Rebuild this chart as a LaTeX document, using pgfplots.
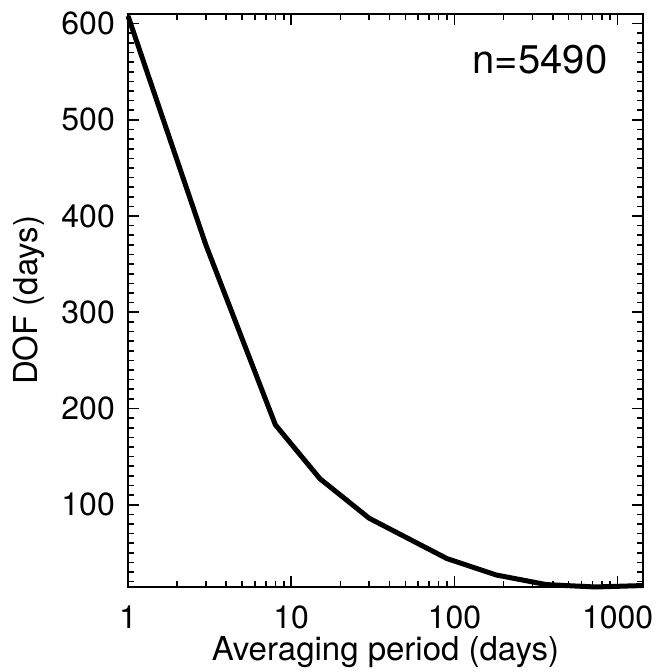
\documentclass[border=0pt]{standalone}
\usepackage{fontspec}
\setmainfont{TeX Gyre Heros}
\usepackage{pgfplots}
\pgfplotsset{compat=1.18}
\begin{document}
\begin{tikzpicture}
\begin{axis}[
  scale only axis=true,
  width=515pt, height=572.5pt,
  xmode=log,
  xmin=1, xmax=1430,
  ymin=15, ymax=610,
  xtick={1,10,100,1000},
  xticklabels={1,10,100,1000},
  ytick={100,200,300,400,500,600},
  yticklabels={100,200,300,400,500,600},
  minor ytick={20,30,...,600},
  xtick pos=both, ytick pos=both,
  tick align=inside,
  axis line style={line width=2pt},
  major tick length=11pt,
  minor tick length=6pt,
  every tick/.style={black, line width=1.6pt},
  tick label style={font=\fontsize{32}{36}\selectfont},
  xticklabel style={anchor=base, yshift=-41.5pt, inner sep=0pt},
  yticklabel style={anchor=east, inner sep=0pt, xshift=-13pt},
  xlabel={Averaging period (days)},
  ylabel={DOF (days)},
  label style={font=\fontsize{33}{36}\selectfont},
  xlabel style={at={(axis description cs:0.5,-0.1301)}, anchor=base, inner sep=0pt},
  ylabel style={at={(axis description cs:-0.1932,0.5)}, anchor=center, inner sep=0pt},
  clip=false,
]
\addplot[black, line width=5pt, line join=round] coordinates {
  (1,608) (3,370) (8,183) (15,127) (30,86) (90,44) (180,27) (365,17) (730,14.5) (1430,16)
};
\node[font=\fontsize{40}{44}\selectfont, anchor=center, inner sep=0pt] at (axis description cs:0.80,0.921) {n=5490};
\end{axis}
\path (current axis.south west) ++(-128pt,-85.5pt) rectangle ++(658pt,672pt);
\end{tikzpicture}
\end{document}
